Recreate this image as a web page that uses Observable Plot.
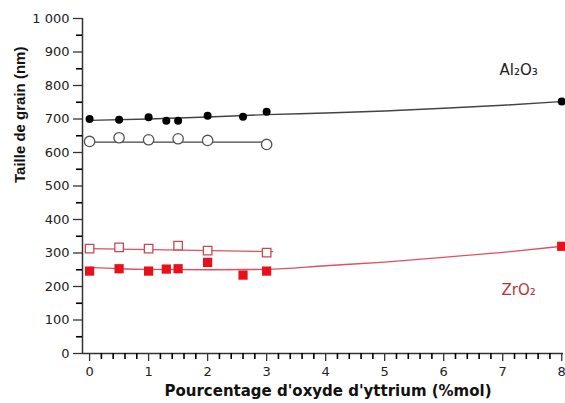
<!DOCTYPE html>
<html>
<head>
<meta charset="utf-8">
<script src="https://cdn.jsdelivr.net/npm/d3@7"></script>
<script src="https://cdn.jsdelivr.net/npm/@observablehq/plot@0.6"></script>
<style>
  html, body { margin: 0; padding: 0; background: #fff; }
  #chart svg { display: block; }
</style>
</head>
<body>
<div id="chart"></div>
<script>
// ---- data ----
const al2o3FilledX = [0, 0.5, 1, 1.3, 1.5, 2, 2.6, 3, 8];
const al2o3FilledY = [700, 698, 705, 695, 695, 710, 707, 722, 752];
const al2o3OpenX = [0, 0.5, 1, 1.5, 2, 3];
const al2o3OpenY = [633, 644, 638, 641, 636, 624];
const zro2FilledX = [0, 0.5, 1, 1.3, 1.5, 2, 2.6, 3, 8];
const zro2FilledY = [246, 253, 246, 252, 253, 272, 234, 246, 320];
const zro2OpenX = [0, 0.5, 1, 1.5, 2, 3];
const zro2OpenY = [313, 317, 313, 322, 307, 301];

// trend curves
const al2o3FilledFitX = [0, 1, 2, 3, 4, 5, 6, 7, 8];
const al2o3FilledFitY = [696, 700, 706, 713, 718, 724, 732, 741, 752];
const al2o3OpenFitX = [0, 3];
const al2o3OpenFitY = [631, 631];
const zro2OpenFitX = [0, 3.1];
const zro2OpenFitY = [313, 304];
const zro2FilledFitX = [0, 0.5, 1, 2, 3, 4, 5, 6, 7, 8];
const zro2FilledFitY = [257, 253, 251, 250, 251, 262, 273, 287, 302, 320];

// axes
const xMin = -0.12;
const xMax = 8.03;
const xTicks = [0, 1, 2, 3, 4, 5, 6, 7, 8];
const xTickLabels = ["0", "1", "2", "3", "4", "5", "6", "7", "8"];
const xMinorTicks = [0.2, 0.4, 0.6, 0.8, 1.2, 1.4, 1.6, 1.8, 2.2, 2.4, 2.6, 2.8, 3.2, 3.4, 3.6, 3.8,
                     4.2, 4.4, 4.6, 4.8, 5.2, 5.4, 5.6, 5.8, 6.2, 6.4, 6.6, 6.8, 7.2, 7.4, 7.6, 7.8];
const yTicks = [0, 100, 200, 300, 400, 500, 600, 700, 800, 900, 1000];
const yTickLabels = ["0", "100", "200", "300", "400", "500", "600", "700", "800", "900", "1 000"];
const yMinorTicks = [50, 150, 250, 350, 450, 550, 650, 750, 850, 950];

const xTitle = "Pourcentage d'oxyde d'yttrium (%mol)";
const yTitle = "Taille de grain (nm)";
const seriesLabels = [
  {x: 7.27, y: 845, text: "Al₂O₃", color: "#222"},
  {x: 7.27, y: 188, text: "ZrO₂", color: "#b8343c"}
];

const pts = (xs, ys) => xs.map((x, i) => ({x, y: ys[i]}));

const W = 565, H = 403, mL = 82, mR = 2, mT = 18, mB = 50;
const xPerPx = (xMax - xMin) / (W - mL - mR);
const yPerPx = 1000 / (H - mT - mB);

const chart = Plot.plot({
  width: W,
  height: H,
  marginLeft: mL,
  marginRight: mR,
  marginTop: mT,
  marginBottom: mB,
  style: {fontFamily: "DejaVu Sans, Verdana, sans-serif", fontSize: "13px", color: "#222", background: "#fff"},
  x: {domain: [xMin, xMax]},
  y: {domain: [0, 1000]},
  marks: [
    // major ticks with labels
    Plot.axisX({ticks: xTicks, tickFormat: (d, i) => xTickLabels[i], tickSize: 8, tickPadding: 5, label: null, stroke: "#333", strokeWidth: 1.3, fontSize: 13}),
    Plot.axisY({ticks: yTicks, tickFormat: (d, i) => yTickLabels[i], tickSize: 9, tickPadding: 4, label: null, stroke: "#333", strokeWidth: 1.3, fontSize: 13}),
    Plot.ruleY([0], {stroke: "#333", strokeWidth: 1.5}),
    Plot.ruleX([xMin], {stroke: "#333", strokeWidth: 1.5}),
    // trend lines
    Plot.line(pts(al2o3FilledFitX, al2o3FilledFitY), {x: "x", y: "y", stroke: "#444", strokeWidth: 1.4, curve: "monotone-x"}),
    Plot.line(pts(al2o3OpenFitX, al2o3OpenFitY), {x: "x", y: "y", stroke: "#444", strokeWidth: 1.4}),
    Plot.line(pts(zro2OpenFitX, zro2OpenFitY), {x: "x", y: "y", stroke: "#e05060", strokeWidth: 1.3}),
    Plot.line(pts(zro2FilledFitX, zro2FilledFitY), {x: "x", y: "y", stroke: "#e05060", strokeWidth: 1.3, curve: "monotone-x"}),
    // points
    Plot.dot(pts(al2o3OpenX, al2o3OpenY), {x: "x", y: "y", r: 5.2, stroke: "#555", strokeWidth: 1.3, fill: "#fff"}),
    Plot.dot(pts(al2o3FilledX, al2o3FilledY), {x: "x", y: "y", r: 4, fill: "#000", stroke: "none"}),
    Plot.dot(pts(zro2OpenX, zro2OpenY), {x: "x", y: "y", r: 4.8, symbol: "square", stroke: "#c8485a", strokeWidth: 1.3, fill: "#fff"}),
    Plot.dot(pts(zro2FilledX, zro2FilledY), {x: "x", y: "y", r: 5.2, symbol: "square", fill: "#e8101a", stroke: "none"}),
    // series labels
    Plot.text(seriesLabels, {x: "x", y: "y", text: "text", fill: "color", fontSize: 15}),
    // axis titles
    Plot.text([xTitle], {frameAnchor: "bottom", dy: 38, dx: 5, fontSize: 15, fontWeight: "bold", fill: "#111", lineAnchor: "middle"}),
    Plot.text([yTitle], {frameAnchor: "left", dx: -62, dy: -3, rotate: -90, fontSize: 15, fontWeight: "bold", fill: "#111", fontFamily: "Liberation Sans, Arial, sans-serif"}),
    // minor ticks (short rules hanging outside the frame), drawn last
    Plot.ruleX(xMinorTicks, {x: d => d, y1: 0, y2: -6 * yPerPx, stroke: "#000", strokeWidth: 1.6}),
    Plot.ruleY(yMinorTicks, {y: d => d, x1: xMin, x2: xMin - 6 * xPerPx, stroke: "#000", strokeWidth: 1.6})
  ]
});
document.getElementById("chart").appendChild(chart);
</script>
</body>
</html>
